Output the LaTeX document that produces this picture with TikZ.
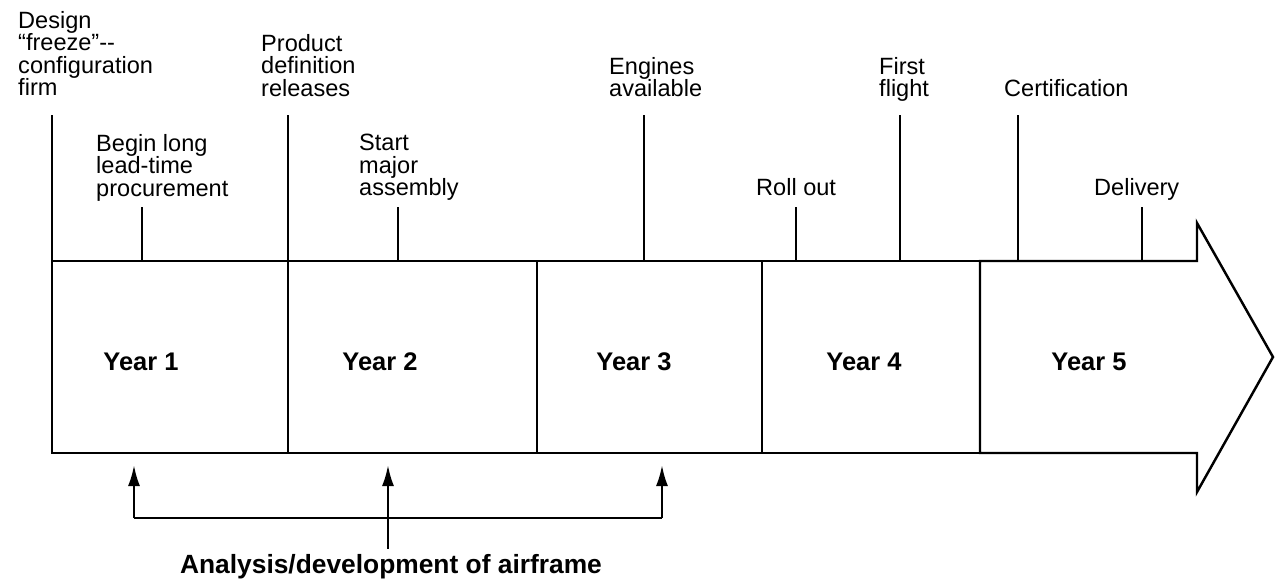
\documentclass[tikz,border=0pt]{standalone}
\usepackage{fontspec}
\setmainfont{Liberation Sans}
\usetikzlibrary{arrows.meta}
\usetikzlibrary{positioning}

\begin{document}
\begin{tikzpicture}[x=0.02cm, y=-0.02cm, line width=1.4pt, every node/.style={inner sep=0pt},
    lbl/.style={anchor=north west, align=left, font=\fontsize{13.4}{12.8}\selectfont},
    yr/.style={font=\fontsize{14.5}{17}\selectfont\bfseries},
    up/.style={-{Latex[length=4.2mm, width=2.4mm]}}]
        % Fix the page to the size of the picture
        \useasboundingbox (0,0) rectangle (1279,582);
        % Define the top and bottom of the time line
        \def\ytop{261}
        \def\ybot{453}

        % Draw the boxes of the first four years
        \draw (52,\ytop) rectangle (980,\ybot);
        \foreach \x in {288, 537, 762}
        {
          \draw (\x,\ytop) -- (\x,\ybot);
        }
        % Draw the fifth year as an arrow
        \draw (980,\ytop) -- (1197,\ytop) -- (1197,223) -- (1273,357) -- (1197,492) -- (1197,\ybot) -- (980,\ybot) -- cycle;

        % Year labels
        \foreach \x/\n in {141/1, 380/2, 634/3, 864/4, 1089/5}
        {
          \node[yr] (year\n) at (\x,362) {Year \n};
        }

        % Draw the long and the short milestone lines
        \foreach \x in {52, 288, 644, 900, 1018}
        {
          \coordinate (L\x) at (\x,115);
          \draw (L\x) -- (\x,\ytop);
        }
        \foreach \x in {142, 398, 796, 1142}
        {
          \coordinate (S\x) at (\x,207);
          \draw (S\x) -- (\x,\ytop);
        }

        % Milestone labels, upper row
        \node[lbl] (freeze) at (17,10) {Design\\“freeze”-{}-\\configuration\\firm};
        \node[lbl] (release) at (260,33) {Product\\definition\\releases};
        \node[lbl] (engines) at (608,56) {Engines\\available};
        \node[lbl] (flight) at (878,56) {First\\flight};
        \node[lbl] (cert) at (1003,78) {Certification};
        % Milestone labels, lower row
        \node[lbl] (procure) at (95,133) {Begin long\\lead-time\\procurement};
        \node[lbl] (assembly) at (358,133) {Start\\major\\assembly};
        \node[lbl] (rollout) at (755,177) {Roll out};
        \node[lbl] (delivery) at (1093,177) {Delivery};

        % Analysis bracket below the time line
        \coordinate (b1) at (134,518);
        \coordinate (b2) at (388,518);
        \coordinate (b3) at (662,518);
        \coordinate (stem) at (388,549);
        \draw (b1) -- (b3);
        \draw[up] (b1) -- (134,465);
        \draw[up] (b2) -- (388,465);
        \draw[up] (b3) -- (662,465);
        \draw (b2) -- (stem);
        \node[anchor=base, font=\fontsize{15}{18}\selectfont\bfseries] (dev) at (391,573) {Analysis/development of airframe};
      \end{tikzpicture}
\end{document}
